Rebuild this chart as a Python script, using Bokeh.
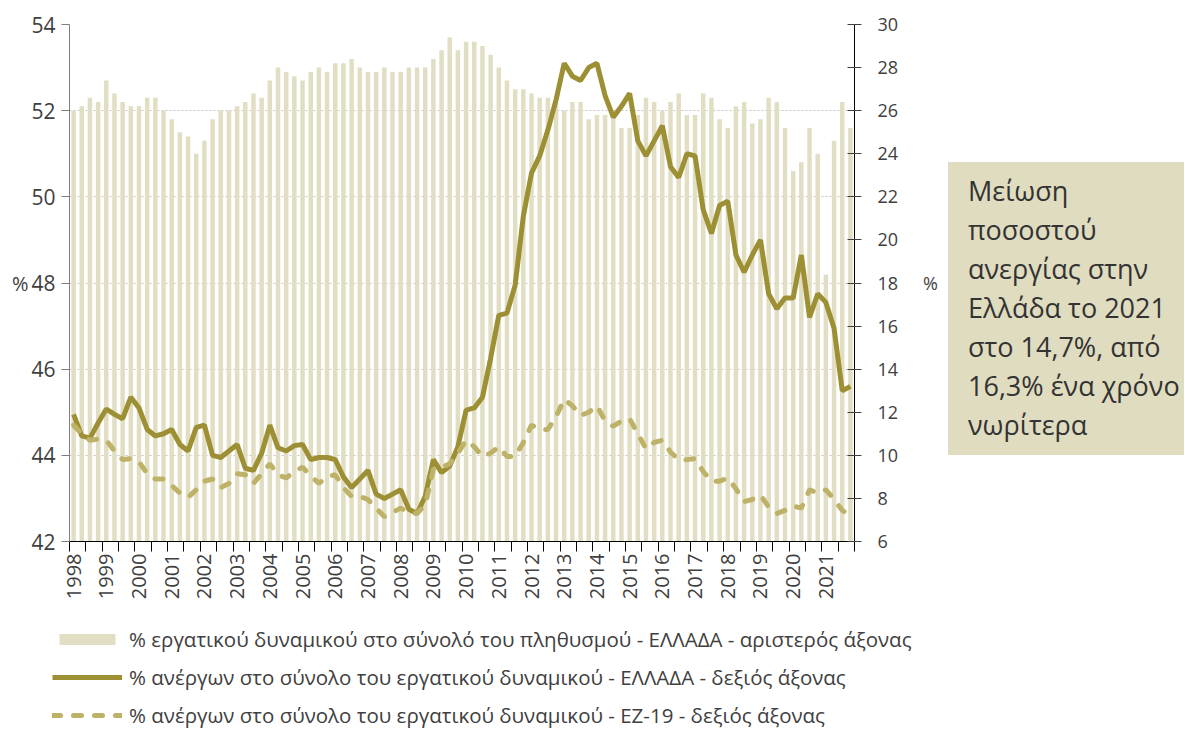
import math
from bokeh.plotting import figure
from bokeh.models import (Range1d, LinearAxis, FixedTicker, Legend, LegendItem,
                          Div)
from bokeh.layouts import row, column
from bokeh.embed import file_html
from bokeh.resources import INLINE

years = list(range(1998, 2022))

labour_force_gr = [
    52.0, 52.1, 52.3, 52.2,  52.7, 52.4, 52.2, 52.1,  52.1, 52.3, 52.3, 52.0,
    51.8, 51.5, 51.4, 51.0,  51.3, 51.8, 52.0, 52.0,  52.1, 52.2, 52.4, 52.3,
    52.7, 53.0, 52.9, 52.8,  52.7, 52.9, 53.0, 52.9,  53.1, 53.1, 53.2, 53.0,
    52.9, 52.9, 53.0, 52.9,  52.9, 53.0, 53.0, 53.0,  53.2, 53.4, 53.7, 53.4,
    53.6, 53.6, 53.5, 53.3,  53.0, 52.7, 52.5, 52.5,  52.4, 52.3, 52.3, 52.2,
    52.0, 52.2, 52.2, 51.8,  51.9, 51.9, 51.9, 51.6,  51.6, 51.9, 52.3, 52.2,
    52.0, 52.2, 52.4, 51.9,  51.9, 52.4, 52.3, 51.8,  51.6, 52.1, 52.2, 51.7,
    51.8, 52.3, 52.2, 51.6,  50.6, 50.8, 51.6, 51.0,  48.2, 51.3, 52.2, 51.6,
]

unemployment_gr = [
    11.9, 10.9, 10.8, 11.5,  12.15, 11.9, 11.7, 12.7,  12.2, 11.2, 10.9, 11.0,
    11.2, 10.5, 10.2, 11.3,  11.4, 10.0, 9.9, 10.2,    10.5, 9.4, 9.3, 10.1,
    11.4, 10.35, 10.2, 10.45, 10.5, 9.8, 9.9, 9.9,     9.8, 9.0, 8.5, 8.9,
    9.3, 8.2, 8.0, 8.2,      8.4, 7.5, 7.3, 8.1,       9.8, 9.2, 9.5, 10.4,
    12.1, 12.2, 12.7, 14.5,  16.5, 16.6, 17.9, 21.1,   23.1, 23.9, 25.1, 26.5,
    28.2, 27.6, 27.4, 28.0,  28.2, 26.7, 25.7, 26.2,   26.8, 24.6, 23.9, 24.6,
    25.3, 23.4, 22.9, 24.0,  23.9, 21.4, 20.3, 21.6,   21.8, 19.3, 18.5, 19.3,
    20.0, 17.5, 16.8, 17.3,  17.3, 19.3, 16.4, 17.5,   17.1, 15.9, 13.0, 13.2,
]

unemployment_ez19 = [
    11.4, 11.0, 10.7, 10.75,  10.7, 10.2, 9.8, 9.85,   9.7, 9.15, 8.9, 8.9,
    8.6, 8.25, 8.05, 8.4,     8.8, 8.9, 8.5, 8.7,      9.15, 9.1, 8.7, 9.15,
    9.6, 9.1, 8.95, 9.25,     9.45, 9.05, 8.7, 9.0,    9.1, 8.5, 8.1, 8.1,
    7.95, 7.55, 7.15, 7.35,   7.55, 7.35, 7.3, 7.7,    9.35, 9.45, 9.6, 10.1,
    10.7, 10.4, 9.95, 10.1,   10.4, 9.95, 9.95, 10.6,  11.4, 11.2, 11.2, 11.8,
    12.6, 12.3, 11.85, 12.0,  12.3, 11.6, 11.35, 11.6, 11.7, 11.0, 10.3, 10.6,
    10.7, 10.15, 9.8, 9.8,    9.85, 9.25, 8.8, 8.8,    8.95, 8.45, 7.85, 7.95,
    8.15, 7.6, 7.3, 7.45,     7.65, 7.55, 8.4, 8.25,   8.4, 7.95, 7.45, 7.2,
]

left_ticks = [42, 44, 46, 48, 50, 52, 54]
right_ticks = [6, 8, 10, 12, 14, 16, 18, 20, 22, 24, 26, 28, 30]

legend_labels = [
    "% εργατικού δυναμικού στο σύνολό του πληθυσμού - ΕΛΛΑΔΑ - αριστερός άξονας",
    "% ανέργων στο σύνολο του εργατικού δυναμικού - ΕΛΛΑΔΑ - δεξιός άξονας",
    "% ανέργων στο σύνολο του εργατικού δυναμικού - ΕΖ-19 - δεξιός άξονας",
]
note_lines = ["Μείωση", "ποσοστού", "ανεργίας στην", "Ελλάδα το 2021",
              "στο 14,7%, από", "16,3% ένα χρόνο", "νωρίτερα"]

FONT = "Open Sans"
TXT = "#404040"
BAR = "#e2dec3"
GR = "#9d8f33"
EZ = "#bdb268"

n = len(labour_force_gr)
xq = [2 * i + 1 for i in range(n)]  # quarter centres (2 units per quarter)

p = figure(width=948, height=602, x_range=Range1d(0, 2 * n),
           y_range=Range1d(42, 54), output_backend="svg",
           toolbar_location=None, min_border_left=69, min_border_right=94,
           min_border_top=24, min_border_bottom=57)
p.frame_align = False
p.extra_y_ranges = {"right": Range1d(6, 30)}
p.outline_line_color = None
p.background_fill_color = "white"

bar_style = dict(fill_color=BAR, line_color=None)
gr_style = dict(line_width=5, line_color=GR)
ez_style = dict(line_width=5, line_color=EZ, line_dash="8 13", line_cap="round")

p.vbar(x=xq, top=labour_force_gr, bottom=42, width=1.1, **bar_style)
p.line(xq, unemployment_gr, y_range_name="right", **gr_style)
p.line(xq, unemployment_ez19, y_range_name="right", **ez_style)

# grid
p.xgrid.visible = False
p.ygrid.ticker = FixedTicker(ticks=left_ticks)
p.ygrid.grid_line_color = "#c4c4c4"
p.ygrid.grid_line_dash = "2 2"
p.ygrid.grid_line_width = 1

# left axis
ya = p.yaxis[0]
ya.ticker = FixedTicker(ticks=left_ticks)
ya.axis_line_color = "#7f7f7f"
ya.major_tick_line_color = "#7f7f7f"
ya.major_tick_out = 8
ya.major_tick_in = 0
ya.minor_tick_line_color = None
ya.major_label_text_font = FONT
ya.major_label_text_font_size = "21px"
ya.major_label_text_color = TXT
ya.major_label_standoff = 6
ya.axis_label = "%"
ya.axis_label_orientation = "horizontal"
ya.axis_label_standoff = 0
ya.axis_label_text_font = FONT
ya.axis_label_text_font_size = "20px"
ya.axis_label_text_font_style = "normal"
ya.axis_label_text_color = TXT

# right axis
ra = LinearAxis(y_range_name="right", ticker=FixedTicker(ticks=right_ticks))
ra.axis_line_color = "black"
ra.major_tick_line_color = "#404040"
ra.major_tick_in = 7
ra.major_tick_out = 7
ra.minor_tick_line_color = None
ra.major_label_text_font = FONT
ra.major_label_text_font_size = "18px"
ra.major_label_text_color = TXT
ra.major_label_standoff = 16
ra.axis_label = "%"
ra.axis_label_orientation = "horizontal"
ra.axis_label_standoff = 22
ra.axis_label_text_font = FONT
ra.axis_label_text_font_size = "18px"
ra.axis_label_text_font_style = "normal"
ra.axis_label_text_color = TXT
p.add_layout(ra, "right")

# bottom axis: year labels at Q1 centres, ticks every half year
xa = p.xaxis[0]
label_pos = [1 + 8 * k for k in range(len(years))]
xa.ticker = FixedTicker(ticks=label_pos, minor_ticks=list(range(0, 2 * n + 1, 4)))
xa.major_label_overrides = {pos: str(y) for pos, y in zip(label_pos, years)}
xa.major_tick_line_color = None
xa.major_tick_out = 10
xa.major_tick_in = 0
xa.minor_tick_out = 10
xa.minor_tick_in = 0
xa.minor_tick_line_color = "black"
xa.axis_line_color = "black"
xa.major_label_orientation = math.pi / 2
xa.major_label_standoff = 2
xa.major_label_text_font = FONT
xa.major_label_text_font_size = "20px"
xa.major_label_text_color = TXT

# legend panel: an axis-less figure under the chart whose own copies of the
# series lie outside its (empty) ranges, so only the legend shows
lf = figure(width=948, height=128, x_range=Range1d(-10, -9),
            y_range=Range1d(-10, -9), x_axis_type=None, y_axis_type=None,
            output_backend="svg", toolbar_location=None,
            min_border_left=0, min_border_right=0, min_border_top=0,
            min_border_bottom=0)
lf.frame_align = False
lf.grid.visible = False
lf.outline_line_color = None
lb = lf.vbar(x=xq, top=labour_force_gr, bottom=42, width=1.1, **bar_style)
lg = lf.line(xq, unemployment_gr, **gr_style)
le = lf.line(xq, unemployment_ez19, **ez_style)
legend = Legend(items=[LegendItem(label=legend_labels[0], renderers=[lb]),
                       LegendItem(label=legend_labels[1], renderers=[lg]),
                       LegendItem(label=legend_labels[2], renderers=[le])],
                location=(52, 1), orientation="vertical",
                margin=0, padding=0, spacing=10,
                glyph_width=70, glyph_height=14, label_height=20,
                label_standoff=7, label_text_font=FONT,
                label_text_font_size="20.5px", label_text_color=TXT,
                border_line_color=None, background_fill_alpha=0)
lf.add_layout(legend, "center")

note = Div(text=(
    '<div style="background:#e0dcc0; width:236px; height:293px; '
    'box-sizing:border-box; padding:9px 0 0 20px; font-family:\'Open Sans\'; '
    'font-size:27px; line-height:39px; color:#333333; white-space:nowrap;">'
    + "<br>".join(note_lines) + "</div>"),
    width=236, height=293, margin=(162, 0, 0, 0))

layout = row(column(p, lf), note)
open("out.html", "w").write(file_html(layout, INLINE))
